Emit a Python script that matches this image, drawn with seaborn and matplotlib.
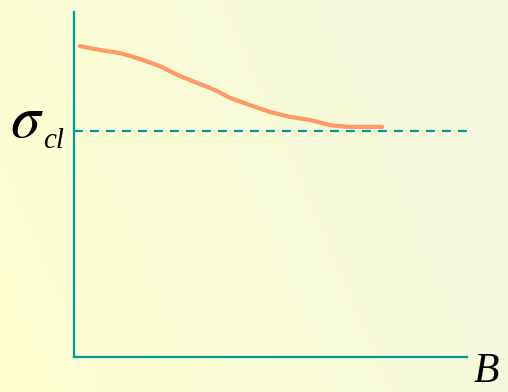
import numpy as np
import pandas as pd
import matplotlib
matplotlib.use("Agg")
import matplotlib.pyplot as plt
import seaborn as sns

# Cross-section sigma as a function of field B (arbitrary units)
B_values = [0.15, 0.66, 1.17, 1.68, 2.19, 2.70, 3.21, 3.59, 3.97, 4.48,
            4.99, 5.50, 6.01, 6.51, 7.02, 7.84]
sigma_values = [9.01, 8.90, 8.81, 8.64, 8.43, 8.14, 7.91, 7.74, 7.51, 7.30,
                7.10, 6.96, 6.87, 6.72, 6.67, 6.67]
sigma_cl = 6.55

sns.set_style("white")
plt.rcParams["font.family"] = ["Liberation Serif", "DejaVu Serif"]
plt.rcParams["mathtext.fontset"] = "stix"

W, H = 508, 392
fig = plt.figure(figsize=(W / 100, H / 100), dpi=100)

# soft yellow background gradient
bg = fig.add_axes([0, 0, 1, 1], zorder=-10)
xx = np.linspace(0, 1, 256)
yy = np.linspace(0, 1, 256)
X, Y = np.meshgrid(xx, yy)
t = np.clip(0.75 * X + 0.25 * (1 - Y), 0, 1)
c0 = np.array([255, 255, 208]) / 255
c1 = np.array([243, 248, 222]) / 255
img = c0[None, None, :] * (1 - t[..., None]) + c1[None, None, :] * t[..., None]
bg.imshow(img, aspect="auto", extent=[0, 1, 0, 1], origin="upper")
bg.set_axis_off()

left, right, top, bottom = 74, 467, 12, 357
ax = fig.add_axes([left / W, (H - bottom) / H, (right - left) / W, (bottom - top) / H])
ax.patch.set_alpha(0)

df = pd.DataFrame({"B": B_values, "sigma": sigma_values})
sns.lineplot(data=df, x="B", y="sigma", ax=ax, color="#FF9966", lw=3.0,
             solid_capstyle="round")
ax.axhline(sigma_cl, color="#009999", lw=1.6, ls=(0, (4, 3.2)))

ax.set_xlim(0, 10)
ax.set_ylim(0, 10)
ax.set_xticks([])
ax.set_yticks([])
ax.set_xlabel("")
ax.set_ylabel("")
sns.despine(ax=ax)
for s in ("left", "bottom"):
    ax.spines[s].set_color("#009999")
    ax.spines[s].set_linewidth(1.6)

# axis labels
fig.text(10 / W, 1 - 123 / H, r"$\sigma$", fontsize=43,
         va="center", ha="left", color="black")
fig.text(43 / W, 1 - 141 / H, "cl", fontsize=21, style="italic",
         va="center", ha="left", color="black")
fig.text(474 / W, 1 - 372 / H, "B", fontsize=30, style="italic",
         va="center", ha="left", color="black")

fig.savefig("out.png", dpi=100)
